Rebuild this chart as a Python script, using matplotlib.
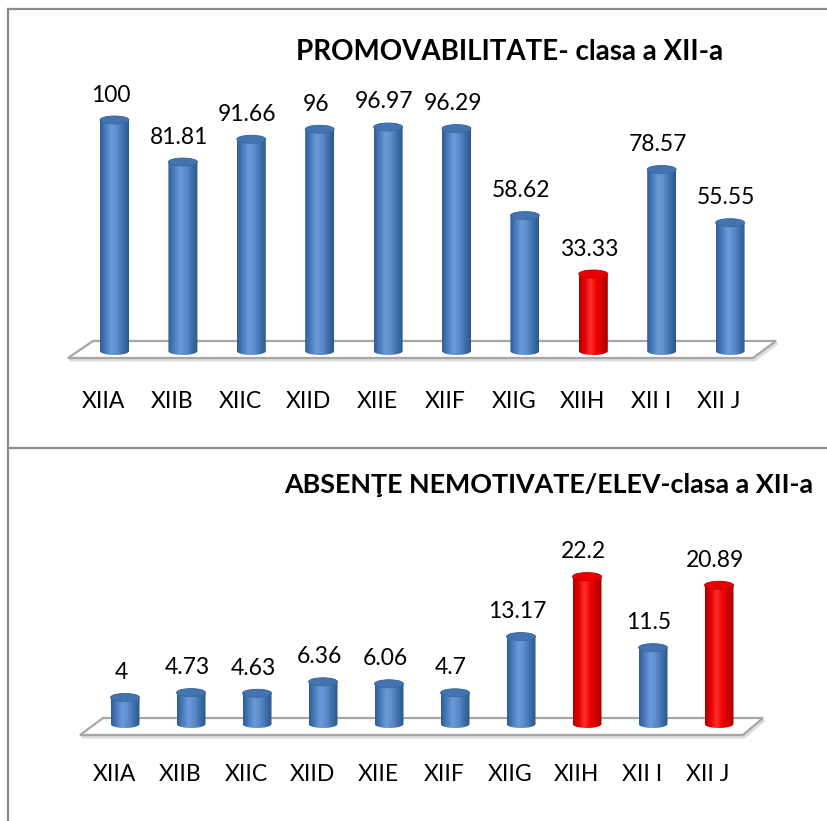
import numpy as np
import matplotlib
matplotlib.use("Agg")
import matplotlib.pyplot as plt
from matplotlib.patches import Ellipse, Polygon, PathPatch
from matplotlib.path import Path
from matplotlib.colors import LinearSegmentedColormap

plt.rcParams['font.family'] = ['Lato', 'DejaVu Sans']

classes = ["XIIA", "XIIB", "XIIC", "XIID", "XIIE", "XIIF", "XIIG", "XIIH", "XII I", "XII J"]
promo_values = [100, 81.81, 91.66, 96, 96.97, 96.29, 58.62, 33.33, 78.57, 55.55]
promo_labels = ["100", "81.81", "91.66", "96", "96.97", "96.29", "58.62", "33.33", "78.57", "55.55"]
promo_red = [False, False, False, False, False, False, False, True, False, False]
abs_values = [4, 4.73, 4.63, 6.36, 6.06, 4.7, 13.17, 22.2, 11.5, 20.89]
abs_labels = ["4", "4.73", "4.63", "6.36", "6.06", "4.7", "13.17", "22.2", "11.5", "20.89"]
abs_red = [False, False, False, False, False, False, False, True, False, True]
title_top = "PROMOVABILITATE- clasa a XII-a"
title_bottom = "ABSENŢE NEMOTIVATE/ELEV-clasa a XII-a"

W, H = 827, 821
fig = plt.figure(figsize=(W / 100, H / 100), dpi=100)
fig.patch.set_facecolor("white")

blue_cmap = LinearSegmentedColormap.from_list(
    "b", ["#2F5E97", "#4A7EBE", "#6B9BDA", "#5B8BCB", "#3F6FAA", "#2C578C"])
red_cmap = LinearSegmentedColormap.from_list(
    "r", ["#B00000", "#E80000", "#FF3030", "#F00000", "#D00000", "#A00000"])
grad = np.linspace(0, 1, 64).reshape(1, -1)


def panel(x0px, dxpx, basepx, ppu, ylim, values, labels, red, floor):
    left_px = x0px - 0.5 * dxpx
    right_px = x0px + 9.5 * dxpx
    bot_px = basepx - ylim[0] * ppu
    top_px = basepx - ylim[1] * ppu
    ax = fig.add_axes([left_px / W, (H - bot_px) / H,
                       (right_px - left_px) / W, (bot_px - top_px) / H])
    ax.set_xlim(-0.5, 9.5)
    ax.set_ylim(*ylim)
    ax.axis("off")

    bl, br, fl, fr, yb, yf = floor
    shadow = Polygon([[fl + 0.02, yf / ppu - 2 / ppu], [fr + 0.02, yf / ppu - 2 / ppu],
                      [br + 0.02, yb / ppu - 2 / ppu]],
                     closed=False, facecolor="none", edgecolor="#DDDDDD", lw=2.2, zorder=0.9,
                     clip_on=False)
    fl_poly = Polygon([[fl, yf / ppu], [fr, yf / ppu], [br, yb / ppu], [bl, yb / ppu]],
                      closed=True, facecolor="white", edgecolor="#A6A6A6", lw=1.6, zorder=1,
                      clip_on=False)
    ax.add_patch(shadow)
    ax.add_patch(fl_poly)

    w = 29 / dxpx
    eh = 8 / ppu
    t = np.linspace(np.pi, 2 * np.pi, 30)
    tt = np.linspace(0, np.pi, 30)
    for i, (v, lab, r) in enumerate(zip(values, labels, red)):
        bx = i + w / 2 * np.cos(t)
        by = 0 + eh / 2 * np.sin(t)
        tx = i + w / 2 * np.cos(tt)
        ty = v + eh / 2 * np.sin(tt)
        verts = np.vstack([np.column_stack([bx, by]), np.column_stack([tx, ty]), [[bx[0], by[0]]]])
        codes = [Path.MOVETO] + [Path.LINETO] * (len(verts) - 2) + [Path.CLOSEPOLY]
        patch = PathPatch(Path(verts, codes), facecolor="none", edgecolor="none", zorder=3)
        ax.add_patch(patch)
        im = ax.imshow(grad, cmap=red_cmap if r else blue_cmap, aspect="auto",
                       extent=(i - w / 2, i + w / 2, -eh, v + eh), zorder=3,
                       interpolation="bilinear")
        im.set_clip_path(patch)
        cap = Ellipse((i, v), w, eh, facecolor="#E80000" if r else "#4474B0",
                      edgecolor="#C80000" if r else "#3A68A0", lw=0.6, zorder=4)
        ax.add_patch(cap)
        ax.annotate(lab, xy=(i, v), xytext=(-4 * 0.72, 25 * 0.72), textcoords="offset points",
                    ha="center", va="center", fontsize=16.5, color="black", zorder=5)
        ax.annotate(classes[i], xy=(i, 0), xytext=(-11 * 0.72, -50 * 0.72), textcoords="offset points",
                    ha="center", va="center", fontsize=16.5, color="black", zorder=5)
    ax.set_xlim(-0.5, 9.5)
    ax.set_ylim(*ylim)
    return ax


panel(114.5, 68.4, 351, 2.31, (-35, 130), promo_values, promo_labels, promo_red,
      ((93 - 114.5) / 68.4, (776 - 114.5) / 68.4, (68 - 114.5) / 68.4, (753 - 114.5) / 68.4, 10, -7))
panel(125, 66, 724, 6.64, (-12, 35), abs_values, abs_labels, abs_red,
      ((103 - 125) / 66, (763 - 125) / 66, (80 - 125) / 66, (743 - 125) / 66, 6, -11))

fig.text(510 / W, 1 - 52 / H, title_top, ha="center", va="center", fontsize=20, fontweight="bold")
fig.text(284 / W, 1 - 485 / H, title_bottom, ha="left", va="center", fontsize=19.4, fontweight="bold")

lc = "#8C8C8C"
fig.add_artist(plt.Line2D([8 / W, 8 / W], [0, 1 - 9 / H], color=lc, lw=1.6, transform=fig.transFigure))
fig.add_artist(plt.Line2D([8 / W, 1], [1 - 9 / H, 1 - 9 / H], color=lc, lw=1.6, transform=fig.transFigure))
fig.add_artist(plt.Line2D([8 / W, 1], [1 - 448 / H, 1 - 448 / H], color=lc, lw=1.6, transform=fig.transFigure))

fig.savefig("out.png", dpi=100, facecolor="white")
